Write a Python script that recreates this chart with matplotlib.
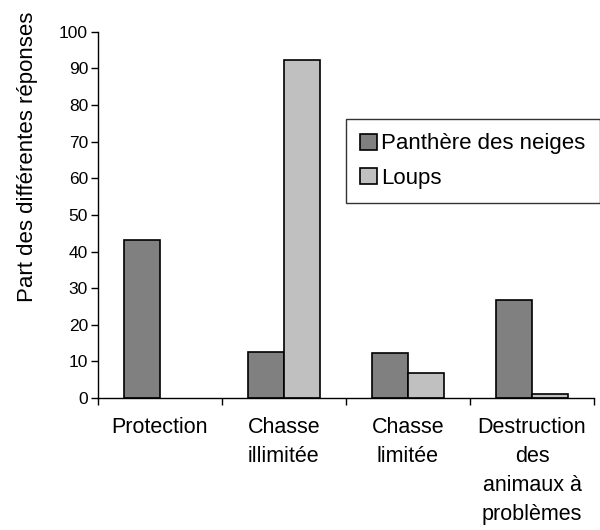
import matplotlib.pyplot as plt
import numpy as np

# --- Data ---
categories = ["Protection", "Chasse\nillimitée", "Chasse\nlimitée",
              "Destruction\ndes\nanimaux à\nproblèmes"]
panthere = [43.2, 12.6, 12.2, 26.8]
loups = [0, 92.3, 6.7, 1.1]
series_names = ["Panthère des neiges", "Loups"]

plt.rcParams['font.family'] = ['Liberation Sans', 'DejaVu Sans']

fig = plt.figure(figsize=(6, 5.3), dpi=100)
ax = fig.add_axes([0.163, 0.249, 0.827, 0.691])

x = np.arange(len(categories))
w = 0.29
# zero bars are not drawn (no outline)
ax.bar(x - w / 2, panthere, w, color="#808080", linewidth=1.2,
       edgecolor=['black' if v > 0 else 'none' for v in panthere],
       label=series_names[0])
ax.bar(x + w / 2, loups, w, color="#c0c0c0", linewidth=1.2,
       edgecolor=['black' if v > 0 else 'none' for v in loups],
       label=series_names[1])

ax.set_xlim(-0.5, len(categories) - 0.5)
ax.set_ylim(0, 100)
ax.set_yticks(range(0, 101, 10))
ax.tick_params(axis='y', labelsize=12.5, direction='out', length=5, width=1, pad=2)

# ticks on the category boundaries, labels at the centres
ax.set_xticks(np.arange(-0.5, len(categories), 1.0))
ax.set_xticklabels([])
ax.set_xticks(x, minor=True)
ax.set_xticklabels(categories, minor=True, fontsize=15.5, linespacing=1.5,
                   va='top')
ax.tick_params(axis='x', which='major', direction='out', length=5, width=1)
ax.tick_params(axis='x', which='minor', length=0, pad=14)

ax.spines['top'].set_visible(False)
ax.spines['right'].set_visible(False)
ax.spines['left'].set_linewidth(1)
ax.spines['bottom'].set_linewidth(1)

ax.set_ylabel("Part des différentes réponses", fontsize=16)
ax.yaxis.set_label_coords(-0.12, 0.658)

leg = ax.legend(loc='upper left', bbox_to_anchor=(0.5, 0.762),
                fontsize=16, frameon=True, fancybox=False,
                handlelength=0.75, handleheight=0.75, handletextpad=0.2,
                borderpad=0.65, labelspacing=0.6, borderaxespad=0)
leg.get_frame().set_edgecolor('black')
leg.get_frame().set_linewidth(1)
for h in leg.legend_handles:
    h.set_edgecolor('black')
    h.set_linewidth(1.2)

fig.savefig("out.png", dpi=100)
